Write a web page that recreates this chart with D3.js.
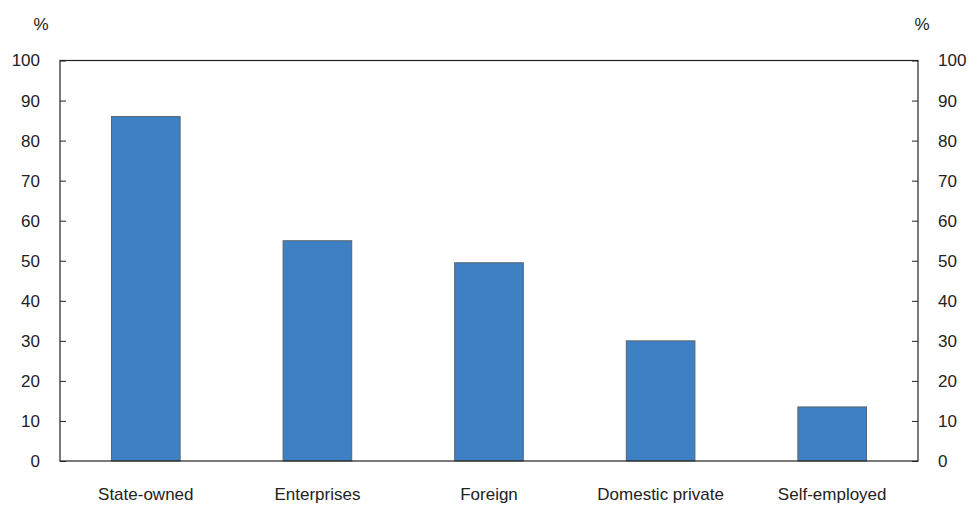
<!DOCTYPE html>
<html>
<head>
<meta charset="utf-8">
<script src="https://cdn.jsdelivr.net/npm/d3@7"></script>
<style>
  html, body { margin: 0; padding: 0; background: #fff; }
  svg text { font-family: "Liberation Sans Narrow", "Arial Narrow", "Liberation Sans", Arial, sans-serif; fill: #222; }
</style>
</head>
<body>
<svg id="chart" width="969" height="505"></svg>
<script>
// Share of employees, by type of employer (%)
const categories = ["State-owned", "Enterprises", "Foreign", "Domestic private", "Self-employed"];
const values = [86, 55, 49.5, 30, 13.5];
const yTicks = [0, 10, 20, 30, 40, 50, 60, 70, 80, 90, 100];
const unitLabel = "%";

const svg = d3.select("#chart");
const margin = { left: 60, right: 51, top: 60.5, bottom: 44 };
const W = 969, H = 505;
const x0 = margin.left, x1 = W - margin.right;
const yTop = margin.top, yBot = H - margin.bottom;

const x = d3.scaleBand().domain(categories).range([x0, x1]).paddingInner(0.6).paddingOuter(0.3);
const y = d3.scaleLinear().domain([0, 100]).range([yBot, yTop]);

// Bars
svg.append("g").selectAll("rect").data(values).join("rect")
  .attr("x", (d, i) => x(categories[i]))
  .attr("y", d => y(d))
  .attr("width", x.bandwidth())
  .attr("height", d => y(0) - y(d))
  .attr("fill", "#3d80c4")
  .attr("stroke", "#5a6470")
  .attr("stroke-width", 1);

// Frame
svg.append("rect")
  .attr("x", x0).attr("y", yTop)
  .attr("width", x1 - x0).attr("height", yBot - yTop)
  .attr("fill", "none").attr("stroke", "#222").attr("stroke-width", 1.2);

// Left axis (ticks pointing inward)
const left = svg.append("g").attr("transform", `translate(${x0},0)`)
  .call(d3.axisRight(y).tickValues(yTicks).tickSize(6).tickFormat(""));
left.select(".domain").remove();
left.selectAll("line").attr("stroke", "#222");

const right = svg.append("g").attr("transform", `translate(${x1},0)`)
  .call(d3.axisLeft(y).tickValues(yTicks).tickSize(6).tickFormat(""));
right.select(".domain").remove();
right.selectAll("line").attr("stroke", "#222");

// Tick labels
const fs = 17;
svg.append("g").selectAll("text").data(yTicks).join("text")
  .attr("x", 40).attr("y", d => y(d)).attr("dy", "0.35em")
  .attr("text-anchor", "end").attr("font-size", fs).text(d => d);
svg.append("g").selectAll("text").data(yTicks).join("text")
  .attr("x", 938).attr("y", d => y(d)).attr("dy", "0.35em")
  .attr("text-anchor", "start").attr("font-size", fs).text(d => d);

// Unit labels
svg.append("text").attr("x", 41).attr("y", 30).attr("text-anchor", "middle").attr("font-size", fs).text(unitLabel);
svg.append("text").attr("x", 922).attr("y", 30).attr("text-anchor", "middle").attr("font-size", fs).text(unitLabel);

// Category labels
svg.append("g").selectAll("text").data(categories).join("text")
  .attr("x", d => x(d) + x.bandwidth() / 2).attr("y", 500)
  .attr("text-anchor", "middle").attr("font-size", fs).text(d => d);
</script>
</body>
</html>
